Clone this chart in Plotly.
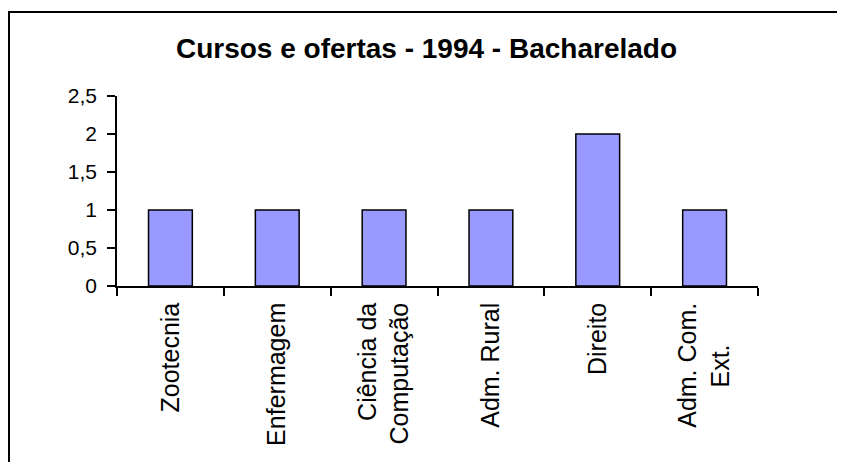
import plotly.graph_objects as go

# Dados do gráfico
cursos = ["Zootecnia", "Enfermagem", "Ciência da<br>Computação", "Adm. Rural",
          "Direito", "Adm. Com.<br>Ext.\u00a0\u00a0\u00a0\u00a0\u00a0\u00a0"]
ofertas = [1, 1, 1, 1, 2, 1]
y_ticks = [0, 0.5, 1, 1.5, 2, 2.5]
y_labels = ["0", "0,5", "1", "1,5", "2", "2,5"]

FONT = "Liberation Sans, Arial, sans-serif"

fig = go.Figure(go.Bar(
    x=cursos,
    y=ofertas,
    marker=dict(color="#9999FF", line=dict(color="#000000", width=1.5)),
    hoverinfo="y",
))

# Moldura externa do gráfico (estilo Excel)
fig.add_shape(type="rect", xref="paper", yref="paper",
              x0=-0.1685, x1=1.5, y0=-1.5, y1=1.442,
              line=dict(color="#000000", width=2), layer="below")

# a página tem 8px de margem no body, por isso 837x454
fig.update_layout(
    width=837, height=454,
    margin=dict(l=109, r=87, t=88, b=176),
    paper_bgcolor="#FFFFFF",
    plot_bgcolor="#FFFFFF",
    font=dict(family=FONT, color="#000000"),
    title=dict(text="<b>Cursos e ofertas - 1994 - Bacharelado</b>",
               x=0.5, xref="container", y=0.912, yanchor="middle",
               font=dict(size=28, family=FONT, color="#000000")),
    bargap=0.59,
    showlegend=False,
    xaxis=dict(showline=True, linecolor="#000000", linewidth=1.5,
               ticks="outside", tickson="boundaries", ticklen=8,
               tickcolor="#000000", tickwidth=1.5,
               tickangle=-90, tickfont=dict(size=25),
               ticklabelstandoff=5,
               showgrid=False, zeroline=False),
    yaxis=dict(range=[0, 2.5], tickvals=y_ticks, ticktext=y_labels,
               showline=True, linecolor="#000000", linewidth=1.5,
               ticks="outside", ticklen=8, tickcolor="#000000", tickwidth=1.5,
               tickfont=dict(size=21), ticklabelstandoff=6,
               showgrid=False, zeroline=False),
)

fig.write_html("out.html")
